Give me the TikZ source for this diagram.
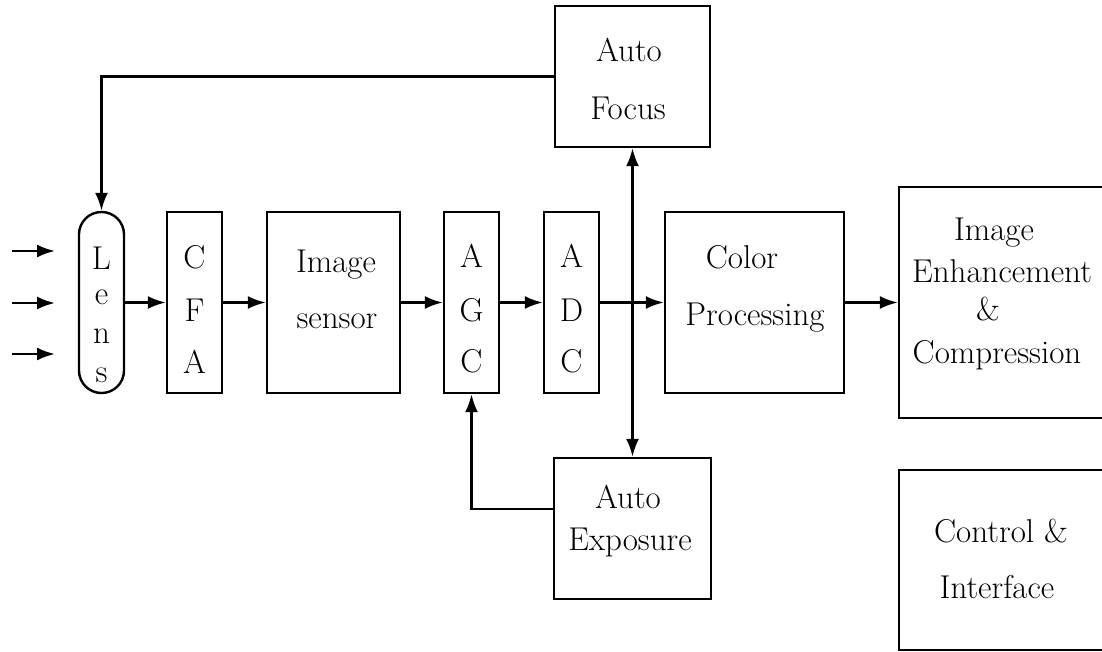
\documentclass[tikz,border=0pt]{standalone}
\usepackage{fontspec}
\usetikzlibrary{arrows.meta,calc}
\begin{document}
\begin{tikzpicture}[x=0.5pt,y=-0.5pt,
  blk/.style={draw,line width=1.2pt,rectangle,inner sep=0pt},
  lbl/.style={inner sep=0pt,anchor=base,font=\fontsize{16.5}{19}\selectfont},
  conn/.style={line width=1.2pt,-{Latex[length=9pt,width=6.5pt]}}]
\useasboundingbox (0,0) rectangle (1102,652);

% processing blocks
\node[blk,minimum width=22.5pt,minimum height=90.5pt,rounded corners=11.2pt] (lens) at (101.5,302.5) {};
\node[blk,minimum width=27.5pt,minimum height=90.5pt] (cfa) at (194.5,302.5) {};
\node[blk,minimum width=66.5pt,minimum height=90.5pt] (sensor) at (333.5,302.5) {};
\node[blk,minimum width=27.5pt,minimum height=90.5pt] (agc) at (471.5,302.5) {};
\node[blk,minimum width=27.5pt,minimum height=90.5pt] (adc) at (571.5,302.5) {};
\node[blk,minimum width=89.5pt,minimum height=90.5pt] (color) at (754.5,302.5) {};
\node[blk,minimum width=105.5pt,minimum height=115.5pt] (enh) at (1004.5,302.5) {};
\node[blk,minimum width=105.5pt,minimum height=90pt] (ctrl) at (1004.5,560) {};
\node[blk,minimum width=77.5pt,minimum height=70.5pt] (af) at (632.5,76.5) {};
\node[blk,minimum width=78.5pt,minimum height=70.5pt] (ae) at (632.5,528.5) {};

% labels
\node[lbl] (lensL) at (101.5,270) {L};
\node[lbl] (lensE) at (101.5,304) {e};
\node[lbl] (lensN) at (101.5,343) {n};
\node[lbl] (lensS) at (101.5,382) {s};

\node[lbl] (cfaC) at (194.5,269) {C};
\node[lbl] (cfaF) at (194.5,321) {F};
\node[lbl] (cfaA) at (194.5,373) {A};

\node[lbl] (sensorA) at (336,272) {Image};
\node[lbl] (sensorB) at (337,328) {sensor};

\node[lbl] (agcA) at (471.5,268) {A};
\node[lbl] (agcG) at (471.5,321) {G};
\node[lbl] (agcC) at (471.5,372) {C};

\node[lbl] (adcA) at (571.5,268) {A};
\node[lbl] (adcD) at (571.5,321) {D};
\node[lbl] (adcC) at (571.5,372) {C};

\node[lbl] (colorA) at (742,269) {Color};
\node[lbl] (colorB) at (755,325) {Processing};

\node[lbl] (enhA) at (994,241) {Image};
\node[lbl] (enhB) at (1002,282) {Enhancement};
\node[lbl] (enhC) at (988,320) {\&};
\node[lbl] (enhD) at (997,363) {Compression};

\node[lbl] (ctrlA) at (1001,542) {Control \&};
\node[lbl] (ctrlB) at (997,598) {Interface};

\node[lbl] (afA) at (629,62) {Auto};
\node[lbl] (afB) at (628,120) {Focus};

\node[lbl] (aeA) at (628,508) {Auto};
\node[lbl] (aeB) at (630,550) {Exposure};

% incoming light
\coordinate (s1) at (12,251); \coordinate (t1) at (55,251);
\coordinate (s2) at (12,303); \coordinate (t2) at (55,303);
\coordinate (s3) at (12,354); \coordinate (t3) at (55,354);
\draw[conn] (s1) -- (t1);
\draw[conn] (s2) -- (t2);
\draw[conn] (s3) -- (t3);

% main signal chain
\draw[conn] (lens) -- (cfa);
\draw[conn] (cfa) -- (sensor);
\draw[conn] (sensor) -- (agc);
\draw[conn] (agc) -- (adc);
\draw[conn] (adc) -- (color);
\draw[conn] (color) -- (enh);

% statistics tap to auto focus / auto exposure
\coordinate (jn) at (adc.east -| af.south);
\draw[conn] (jn) -- (af.south);
\draw[conn] (jn) -- (ae.north);

% feedback loops
\draw[conn] (af.west) -| (lens.north);
\draw[conn] ($(ae.west)+(0,-19.5)$) -| (agc.south);
\end{tikzpicture}
\end{document}
